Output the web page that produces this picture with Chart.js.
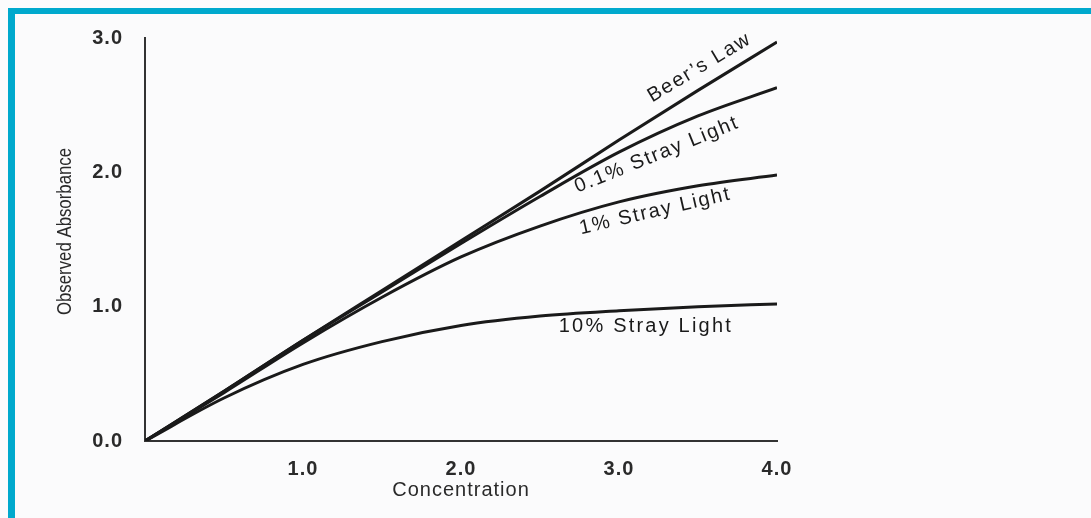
<!DOCTYPE html>
<html>
<head>
<meta charset="utf-8">
<script src="https://cdn.jsdelivr.net/npm/chart.js@4/dist/chart.umd.min.js"></script>
<style>
  html, body { margin: 0; padding: 0; background: #fbfbfc; overflow: hidden; }
  #wrap { position: relative; width: 1091px; height: 518px; }
  #frame { position: absolute; left: 8px; top: 8px; right: 0; bottom: 0; border-top: 6px solid #00a9cd; border-left: 7px solid #00a9cd; pointer-events: none; }
  canvas { position: absolute; left: 0; top: 0; }
</style>
</head>
<body>
<div id="wrap">
  <canvas id="chart" width="1091" height="518"></canvas>
  <div id="frame"></div>
</div>
<script>
// values
const concentration = [0, 0.5, 1, 1.5, 2, 2.5, 3, 3.5, 4];
const beersLaw = [0, 0.37, 0.75, 1.12, 1.49, 1.86, 2.24, 2.61, 2.97];
const stray01 = [0, 0.37, 0.75, 1.11, 1.47, 1.82, 2.15, 2.42, 2.63];
const stray1 = [0, 0.36, 0.73, 1.07, 1.37, 1.60, 1.78, 1.90, 1.98];
const stray10 = [0, 0.32, 0.57, 0.74, 0.86, 0.93, 0.97, 1.00, 1.02];

const xTicks = [1, 2, 3, 4];
const xTickLabels = ['1.0', '2.0', '3.0', '4.0'];
const yTicks = [0, 1, 2, 3];
const yTickLabels = ['0.0', '1.0', '2.0', '3.0'];

const curveLabels = ['Beer\u2019s Law', '0.1% Stray Light', '1% Stray Light', '10% Stray Light'];
const labelAt = [[3.51, 2.78], [3.24, 2.13], [3.23, 1.71], [3.17, 0.85]];
const labelAngle = [-31, -22, -13, 0];

const xTitle = 'Concentration';
const yTitle = 'Observed Absorbance';

const ink = '#1a1a1a';
const sans = '"Liberation Sans", Arial, sans-serif';
const toPts = (ys) => concentration.map((c, i) => ({ x: c, y: ys[i] }));

function line(data) {
  return { data: toPts(data), borderColor: ink, borderWidth: 3, pointRadius: 0, fill: false, cubicInterpolationMode: 'monotone' };
}

const curveText = {
  id: 'curveText',
  beforeDraw(chart) { chart.ctx.letterSpacing = '1px'; },
  afterDatasetsDraw(chart) {
    const { ctx, scales: { x, y }, chartArea } = chart;
    ctx.save();
    ctx.fillStyle = ink;
    ctx.font = '20px ' + sans;
    ctx.textAlign = 'center';
    ctx.textBaseline = 'middle';
    curveLabels.forEach((t, i) => {
      ctx.save();
      ctx.letterSpacing = i === 3 ? '2.2px' : '1.8px';
      ctx.translate(x.getPixelForValue(labelAt[i][0]), y.getPixelForValue(labelAt[i][1]));
      ctx.rotate(labelAngle[i] * Math.PI / 180);
      ctx.fillText(t, 0, 0);
      ctx.restore();
    });
    // y title, condensed like the original
    ctx.letterSpacing = '0px';
    ctx.font = '21px ' + sans;
    ctx.fillStyle = '#2a2a2a';
    ctx.translate(65, (chartArea.top + chartArea.bottom) / 2 - 8);
    ctx.rotate(-Math.PI / 2);
    ctx.scale(0.8, 1);
    ctx.fillText(yTitle, 0, 0);
    ctx.restore();
  }
};

new Chart(document.getElementById('chart'), {
  type: 'line',
  data: { datasets: [line(beersLaw), line(stray01), line(stray1), line(stray10)] },
  options: {
    responsive: false,
    animation: false,
    layout: { padding: { top: 38, right: 314, left: 0, bottom: 0 } },
    plugins: { legend: { display: false }, tooltip: { enabled: false } },
    scales: {
      x: {
        type: 'linear', min: 0, max: 4,
        afterFit(s) { s.height = 77; },
        afterBuildTicks(s) { s.ticks = xTicks.map((v) => ({ value: v })); },
        grid: { display: false },
        border: { display: true, color: '#333', width: 2 },
        ticks: {
          color: '#2a2a2a', padding: 8, maxRotation: 0, autoSkip: false,
          font: { family: sans, size: 20, weight: 'bold' },
          callback: (v) => xTickLabels[xTicks.indexOf(v)]
        },
        title: {
          display: true, text: xTitle, color: '#2a2a2a',
          font: { family: sans, size: 20 },
          padding: { top: 0, bottom: 16 }
        }
      },
      y: {
        type: 'linear', min: 0, max: 3,
        afterFit(s) { s.width = 145; },
        afterBuildTicks(s) { s.ticks = yTicks.map((v) => ({ value: v })); },
        grid: { display: false },
        border: { display: true, color: '#333', width: 2 },
        ticks: {
          color: '#2a2a2a', padding: 14,
          font: { family: sans, size: 20, weight: 'bold' },
          callback: (v) => yTickLabels[yTicks.indexOf(v)]
        }
      }
    }
  },
  plugins: [curveText]
});
</script>
</body>
</html>
